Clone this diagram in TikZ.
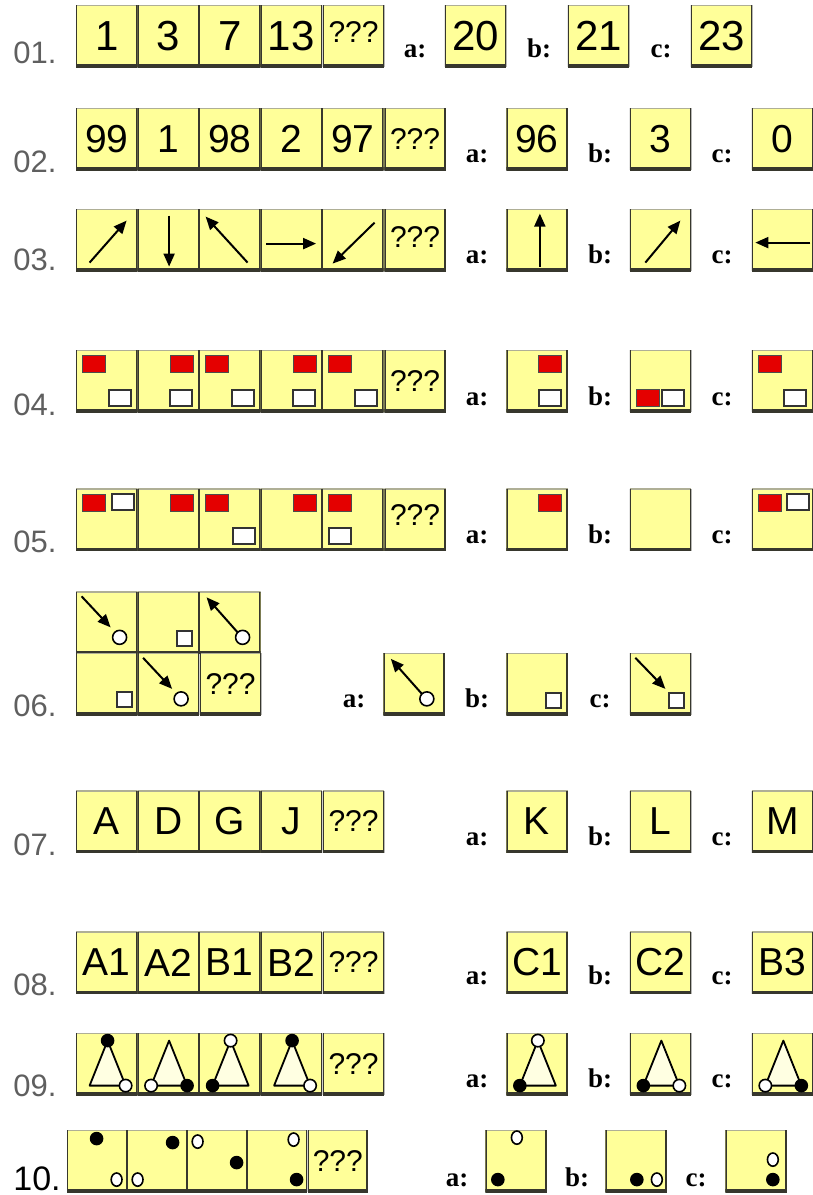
\documentclass[tikz,border=0pt]{standalone}
\usepackage{fontspec}
\usepackage{tikz}
\usetikzlibrary{arrows.meta,positioning}

\newfontfamily\arialfont{Liberation Sans}
\newfontfamily\timesfont{Liberation Serif}

\definecolor{cellyellow}{RGB}{255,255,153}
\definecolor{paleyellow}{RGB}{255,255,226}
\definecolor{edgegray}{RGB}{55,55,45}
\definecolor{topgray}{RGB}{175,175,150}
\definecolor{numgray}{RGB}{95,95,95}
\definecolor{sqred}{RGB}{228,0,0}

% draw inside a cell, origin at its top left corner, y going down
\newcommand{\inbox}[2]{\begin{scope}[shift={(#1.north west)}]#2\end{scope}}
\newcommand{\redat}[2]{\draw[redsq] (#1,#2) rectangle ++(23,17);}
\newcommand{\whiteat}[2]{\draw[whsq] (#1,#2) rectangle ++(22,16);}
\newcommand{\trishape}{\draw[tri] (32,8) -- (50,53) -- (14,53) -- cycle;}
\newcommand{\dotat}[2]{\fill (#1,#2) circle (3.4pt);}
\newcommand{\ringat}[2]{\draw[ring] (#1,#2) circle (3.1pt);}
\newcommand{\ovalat}[2]{\draw[ring] (#1,#2) ellipse (2.7pt and 3.3pt);}

\tikzset{
  cell/.style={rectangle, fill=cellyellow, inner sep=0pt, minimum width=30.75pt, minimum height=31pt,
    font=\arialfont\fontsize{19.5}{20}\selectfont,
    path picture={
      \draw[topgray, line width=1pt] (path picture bounding box.north west) -- (path picture bounding box.north east);
      \draw[edgegray, line width=1.4pt] (path picture bounding box.north west) -- (path picture bounding box.south west);
      \draw[edgegray, line width=1.4pt] (path picture bounding box.north east) -- (path picture bounding box.south east);
      \draw[edgegray, line width=3pt] (path picture bounding box.south west) -- (path picture bounding box.south east);
    }},
  bignum/.style={font=\arialfont\fontsize{21}{22}\selectfont},
  qmark/.style={font=\arialfont\fontsize{15}{15}\selectfont},
  opt/.style={anchor=base, inner sep=0pt, font=\timesfont\bfseries\fontsize{13.5}{14}\selectfont},
  rowno/.style={anchor=base west, inner sep=0pt, text=numgray, font=\arialfont\fontsize{15.5}{16}\selectfont},
  arr/.style={-{Triangle[length=6.5pt,width=5.5pt]}, line width=1pt},
  redsq/.style={fill=sqred, draw=black!70, line width=0.6pt},
  whsq/.style={fill=white, draw=black!80, line width=0.9pt},
  tri/.style={draw=black, fill=paleyellow, line width=0.9pt, line join=round},
  ring/.style={draw=black, fill=white, line width=0.8pt}
}

\begin{document}
\begin{tikzpicture}[x=0.5pt, y=-0.5pt]
\useasboundingbox (0,0) rectangle (813,1195);

% 01
\foreach \t [count=\i] in {1,3,7,13}
  \node[cell, bignum] (r1c\i) at ({76+61.5*(\i-0.5)},36) {\t};
\node[cell, qmark, right=0pt of r1c4, text depth=4pt] (r1q) {???};
\node[rowno] (n01) at (13,63) {01.};
\node[opt] (r1la) at (415,57) {a:};
\node[cell, bignum] (r1oa) at (475.5,36) {20};
\node[opt] (r1lb) at (539,57) {b:};
\node[cell, bignum] (r1ob) at (598.5,36) {21};
\node[opt] (r1lc) at (661,57) {c:};
\node[cell, bignum] (r1oc) at (721.5,36) {23};

% 02
\foreach \t [count=\i] in {99,1,98,2,97}
  \node[cell] (r2c\i) at ({76+61.5*(\i-0.5)},139) {\t};
\node[cell, qmark, right=0pt of r2c5] (r2q) {???};
\node[rowno] (n02) at (13,172) {02.};
\node[opt] (r2la) at (477,162) {a:};
\node[cell] (r2oa) at (537,139) {96};
\node[opt] (r2lb) at (600,162) {b:};
\node[cell] (r2ob) at (660.5,139) {3};
\node[opt] (r2lc) at (722,162) {c:};
\node[cell] (r2oc) at (782.5,139) {0};

% 03
\foreach \i in {1,...,5}
  \node[cell] (r3c\i) at ({76+61.5*(\i-0.5)},240) {};
\node[cell, qmark, right=0pt of r3c5, text depth=3pt] (r3q) {???};
\node[rowno] (n03) at (13,270) {03.};
\node[opt] (r3la) at (477,263) {a:};
\node[cell] (r3oa) at (537,240) {};
\node[opt] (r3lb) at (600,263) {b:};
\node[cell] (r3ob) at (660.5,240) {};
\node[opt] (r3lc) at (722,263) {c:};
\node[cell] (r3oc) at (782.5,240) {};
\inbox{r3c1}{\draw[arr] (14,54) -- (51,12);}
\inbox{r3c2}{\draw[arr] (32,7) -- (32,58);}
\inbox{r3c3}{\draw[arr] (49,54) -- (7,8);}
\inbox{r3c4}{\draw[arr] (6,35) -- (56,35);}
\inbox{r3c5}{\draw[arr] (53,14) -- (11,55);}
\inbox{r3oa}{\draw[arr] (34,58) -- (34,5);}
\inbox{r3ob}{\draw[arr] (16,54) -- (51,12);}
\inbox{r3oc}{\draw[arr] (59,34) -- (4,34);}

% 04
\foreach \i in {1,...,5}
  \node[cell] (r4c\i) at ({76+61.5*(\i-0.5)},381) {};
\node[cell, qmark, right=0pt of r4c5] (r4q) {???};
\node[rowno] (n04) at (13,415) {04.};
\node[opt] (r4la) at (477,405) {a:};
\node[cell] (r4oa) at (537,381) {};
\node[opt] (r4lb) at (600,405) {b:};
\node[cell] (r4ob) at (660.5,381) {};
\node[opt] (r4lc) at (722,405) {c:};
\node[cell] (r4oc) at (782.5,381) {};
\inbox{r4c1}{\redat{7}{6}\whiteat{33}{40}}
\inbox{r4c2}{\redat{33}{6}\whiteat{33}{40}}
\inbox{r4c3}{\redat{7}{6}\whiteat{33}{40}}
\inbox{r4c4}{\redat{33}{6}\whiteat{33}{40}}
\inbox{r4c5}{\redat{7}{6}\whiteat{33}{40}}
\inbox{r4oa}{\redat{33}{6}\whiteat{33}{40}}
\inbox{r4ob}{\redat{7}{40}\whiteat{33}{40}}
\inbox{r4oc}{\redat{7}{6}\whiteat{33}{40}}

% 05
\foreach \i in {1,...,5}
  \node[cell] (r5c\i) at ({76+61.5*(\i-0.5)},519.5) {};
\node[cell, qmark, right=0pt of r5c5, text depth=4pt] (r5q) {???};
\node[rowno] (n05) at (13,552) {05.};
\node[opt] (r5la) at (477,543) {a:};
\node[cell] (r5oa) at (537,519.5) {};
\node[opt] (r5lb) at (600,543) {b:};
\node[cell] (r5ob) at (660.5,519.5) {};
\node[opt] (r5lc) at (722,543) {c:};
\node[cell] (r5oc) at (782.5,519.5) {};
\inbox{r5c1}{\redat{7}{6}\whiteat{36}{6}}
\inbox{r5c2}{\redat{33}{6}}
\inbox{r5c3}{\redat{7}{6}\whiteat{34}{40}}
\inbox{r5c4}{\redat{33}{6}}
\inbox{r5c5}{\redat{7}{6}\whiteat{7}{40}}
\inbox{r5oa}{\redat{33}{6}}
\inbox{r5oc}{\redat{7}{6}\whiteat{36}{6}}

% 06
\foreach \i in {1,2,3}
  \node[cell] (r6c\i) at ({76+61.5*(\i-0.5)},622.75) {};
\foreach \i in {4,5}
  \node[cell] (r6c\i) at ({76+61.5*(\i-3.5)},684.25) {};
\node[cell, qmark, right=0pt of r6c5] (r6q) {???};
\node[rowno] (n06) at (13,716) {06.};
\node[opt] (r6la) at (354,707) {a:};
\node[cell] (r6oa) at (414,684.25) {};
\node[opt] (r6lb) at (477,707) {b:};
\node[cell] (r6ob) at (537,684.25) {};
\node[opt] (r6lc) at (600,707) {c:};
\node[cell] (r6oc) at (660.5,684.25) {};
\inbox{r6c1}{\draw[arr] (6,5) -- (35,36); \draw[ring] (44,46) circle (3.5pt);}
\inbox{r6c2}{\draw[whsq] (40,40) rectangle ++(15,15);}
\inbox{r6c3}{\draw[arr] (39,41) -- (8,6); \draw[ring] (44,46) circle (3.5pt);}
\inbox{r6c4}{\draw[whsq] (41,39) rectangle ++(15,15);}
\inbox{r6c5}{\draw[arr] (6,5) -- (35,36); \draw[ring] (44,46) circle (3.5pt);}
\inbox{r6oa}{\draw[arr] (39,41) -- (8,6); \draw[ring] (44,46) circle (3.5pt);}
\inbox{r6ob}{\draw[whsq] (40,40) rectangle ++(15,15);}
\inbox{r6oc}{\draw[arr] (6,5) -- (36,36); \draw[whsq] (40,40) rectangle ++(15,15);}

% 07
\foreach \t [count=\i] in {A,D,G,J}
  \node[cell] (r7c\i) at ({76+61.5*(\i-0.5)},821.5) {\t};
\node[cell, qmark, right=0pt of r7c4] (r7q) {???};
\node[rowno] (n07) at (13,855) {07.};
\node[opt] (r7la) at (477,845) {a:};
\node[cell] (r7oa) at (537,821.5) {K};
\node[opt] (r7lb) at (600,845) {b:};
\node[cell] (r7ob) at (660.5,821.5) {L};
\node[opt] (r7lc) at (722,845) {c:};
\node[cell] (r7oc) at (782.5,821.5) {M};

% 08
\foreach \t [count=\i] in {A1,A2,B1,B2}
  \node[cell] (r8c\i) at ({76+61.5*(\i-0.5)},962.5) {\t};
\node[cell, qmark, right=0pt of r8c4] (r8q) {???};
\node[rowno] (n08) at (13,995) {08.};
\node[opt] (r8la) at (477,984) {a:};
\node[cell] (r8oa) at (537,962.5) {C1};
\node[opt] (r8lb) at (600,984) {b:};
\node[cell] (r8ob) at (660.5,962.5) {C2};
\node[opt] (r8lc) at (722,984) {c:};
\node[cell] (r8oc) at (782.5,962.5) {B3};

% 09
\foreach \i in {1,...,4}
  \node[cell] (r9c\i) at ({76+61.5*(\i-0.5)},1064) {};
\node[cell, qmark, right=0pt of r9c4] (r9q) {???};
\node[rowno] (n09) at (13,1096) {09.};
\node[opt] (r9la) at (477,1087) {a:};
\node[cell] (r9oa) at (537,1064) {};
\node[opt] (r9lb) at (600,1087) {b:};
\node[cell] (r9ob) at (660.5,1064) {};
\node[opt] (r9lc) at (722,1087) {c:};
\node[cell] (r9oc) at (782.5,1064) {};
\inbox{r9c1}{\trishape\dotat{32}{8}\ringat{50}{53}}
\inbox{r9c2}{\trishape\ringat{14}{53}\dotat{50}{53}}
\inbox{r9c3}{\trishape\ringat{32}{8}\dotat{14}{53}}
\inbox{r9c4}{\trishape\dotat{32}{8}\ringat{50}{53}}
\inbox{r9oa}{\trishape\ringat{32}{8}\dotat{14}{53}}
\inbox{r9ob}{\trishape\dotat{14}{53}\ringat{50}{53}}
\inbox{r9oc}{\trishape\ringat{14}{53}\dotat{50}{53}}

% 10
\foreach \i in {1,...,4}
  \node[cell, minimum width=30pt] (r10c\i) at ({67+60*(\i-0.5)},1161) {};
\node[cell, qmark, minimum width=30pt, right=0pt of r10c4] (r10q) {???};
\node[rowno, text=black, font=\arialfont\fontsize{17}{18}\selectfont] (n10) at (13,1190) {10.};
\node[opt] (r10la) at (457,1186) {a:};
\node[cell] (r10oa) at (516,1161) {};
\node[opt] (r10lb) at (577,1186) {b:};
\node[cell] (r10ob) at (636,1161) {};
\node[opt] (r10lc) at (696,1186) {c:};
\node[cell] (r10oc) at (756,1161) {};
\inbox{r10c1}{\dotat{30}{9}\ovalat{50}{50}}
\inbox{r10c2}{\ovalat{11}{50}\dotat{46}{13}}
\inbox{r10c3}{\ovalat{11}{12}\dotat{50}{33}}
\inbox{r10c4}{\ovalat{47}{10}\dotat{50}{50}}
\inbox{r10oa}{\ovalat{32}{8}\dotat{13}{50}}
\inbox{r10ob}{\dotat{32}{50}\ovalat{52}{50}}
\inbox{r10oc}{\ovalat{48}{30}\dotat{48}{50}}
\end{tikzpicture}
\end{document}
